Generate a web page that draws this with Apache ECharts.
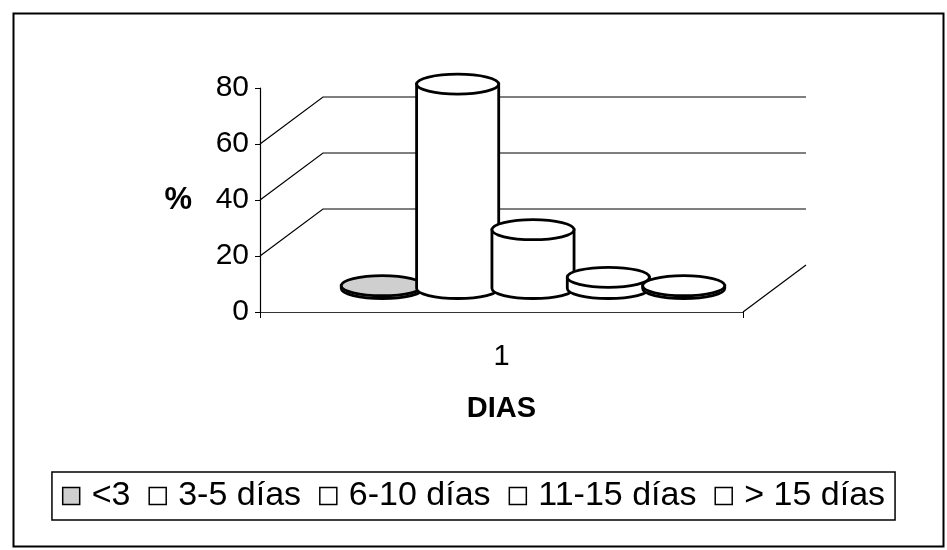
<!DOCTYPE html>
<html>
<head>
<meta charset="utf-8">
<script src="https://cdn.jsdelivr.net/npm/echarts@6/dist/echarts.min.js"></script>
<style>
  html, body { margin: 0; padding: 0; background: #fff; }
  #chart { width: 947px; height: 550px; }
</style>
</head>
<body>
<div id="chart"></div>
<script>
// data
const categories = ['1']
const seriesNames = ['<3', '3-5 días', '6-10 días', '11-15 días', '> 15 días']
const seriesValues = [1, 73, 21, 4, 1]
const seriesColors = ['#cfcfcf', '#ffffff', '#ffffff', '#ffffff', '#ffffff']
const yTicks = [0, 20, 40, 60, 80]
const wallLines = [20, 40, 60]

const FONT = 'Liberation Sans'
// 3d depth of the plot box, in px
const DEPTH_X = 63
const DEPTH_Y = -47

const chart = echarts.init(document.getElementById('chart'))

// gridlines: left wall diagonal + back wall horizontal
function renderWall(params, api) {
  const cs = params.coordSys
  const y = api.coord([api.value(0), api.value(1)])[1]
  const left = cs.x
  const right = cs.x + cs.width
  return {
    type: 'polyline',
    shape: { points: [[left, y], [left + DEPTH_X, y + DEPTH_Y], [right + DEPTH_X, y + DEPTH_Y]] },
    style: { stroke: '#000', lineWidth: 1.2, fill: null },
    silent: true
  }
}

// right edge of the floor
function renderFloor(params, api) {
  const cs = params.coordSys
  const y = api.coord([api.value(0), api.value(1)])[1]
  const right = cs.x + cs.width
  return {
    type: 'line',
    shape: { x1: right, y1: y, x2: right + DEPTH_X, y2: y + DEPTH_Y },
    style: { stroke: '#000', lineWidth: 1.2 },
    silent: true
  }
}

function cylinder(idx) {
  return function (params, api) {
    const top = api.coord([api.value(0), api.value(1)])
    const base = api.coord([api.value(0), 0])
    const band = api.size([1, 0])[0]
    const w = band * 0.17
    const cx = top[0] + (idx - 2) * band * 0.156 + DEPTH_X / 2
    const rx = w / 2
    const ry = 10
    const l = cx - rx
    const r = cx + rx
    const t = top[1] + DEPTH_Y / 2
    const b = base[1] + DEPTH_Y / 2
    const style = { fill: api.visual('color'), stroke: '#000', lineWidth: 2.8 }
    return {
      type: 'group',
      children: [{
        type: 'path',
        shape: { pathData: `M${l} ${t}L${l} ${b}A${rx} ${ry} 0 0 0 ${r} ${b}L${r} ${t}Z` },
        style
      }, {
        type: 'path',
        shape: { pathData: `M${l} ${t}A${rx} ${ry} 0 1 0 ${r} ${t}A${rx} ${ry} 0 1 0 ${l} ${t}Z` },
        style
      }]
    }
  }
}

const series = [{
  type: 'custom',
  name: 'walls',
  renderItem: renderWall,
  data: wallLines.map(v => [0, v]),
  z: 1,
  silent: true
}, {
  type: 'custom',
  name: 'floor',
  renderItem: renderFloor,
  data: [[0, 0]],
  z: 1,
  silent: true
}]

seriesNames.forEach((name, i) => {
  series.push({
    type: 'custom',
    name,
    renderItem: cylinder(i),
    itemStyle: { color: seriesColors[i] },
    data: [[0, seriesValues[i]]],
    z: 2 + i
  })
})

const option = {
  animation: false,
  backgroundColor: '#fff',
  textStyle: { fontFamily: FONT, color: '#000' },
  grid: { left: 260, right: 204, top: 88, bottom: 238 },
  xAxis: {
    type: 'category',
    data: categories,
    name: 'DIAS',
    nameLocation: 'middle',
    nameGap: 82,
    nameTextStyle: { fontFamily: FONT, fontSize: 29, fontWeight: 'bold', color: '#000' },
    axisLine: { lineStyle: { color: '#333', width: 1 } },
    axisTick: { show: true, length: 6, lineStyle: { color: '#000' } },
    axisLabel: { fontFamily: FONT, fontSize: 29, color: '#000', margin: 30 },
    splitLine: { show: false }
  },
  yAxis: {
    type: 'value',
    min: yTicks[0],
    max: yTicks[yTicks.length - 1],
    interval: yTicks[1] - yTicks[0],
    name: '%',
    nameLocation: 'middle',
    nameRotate: 0,
    nameGap: 68,
    nameTextStyle: { fontFamily: FONT, fontSize: 31, fontWeight: 'bold', color: '#000' },
    axisLine: { show: true, lineStyle: { color: '#000', width: 1.2 } },
    axisTick: { show: true, length: 5, lineStyle: { color: '#000' } },
    axisLabel: { fontFamily: FONT, fontSize: 30, color: '#000', margin: 11 },
    splitLine: { show: false }
  },
  legend: {
    data: seriesNames,
    left: 'center',
    top: 472,
    icon: 'rect',
    itemWidth: 17,
    itemHeight: 17,
    itemGap: 18,
    padding: [7, 10],
    borderColor: '#000',
    borderWidth: 1.5,
    selectedMode: false,
    itemStyle: { borderColor: '#000', borderWidth: 1.5 },
    textStyle: { fontFamily: FONT, fontSize: 34, color: '#000', padding: [0, 0, 0, 7] }
  },
  graphic: [{
    type: 'rect',
    left: 11,
    top: 11,
    shape: { width: 930, height: 533 },
    style: { fill: null, stroke: '#000', lineWidth: 2 },
    silent: true
  }],
  series
}

chart.setOption(option)
</script>
</body>
</html>
